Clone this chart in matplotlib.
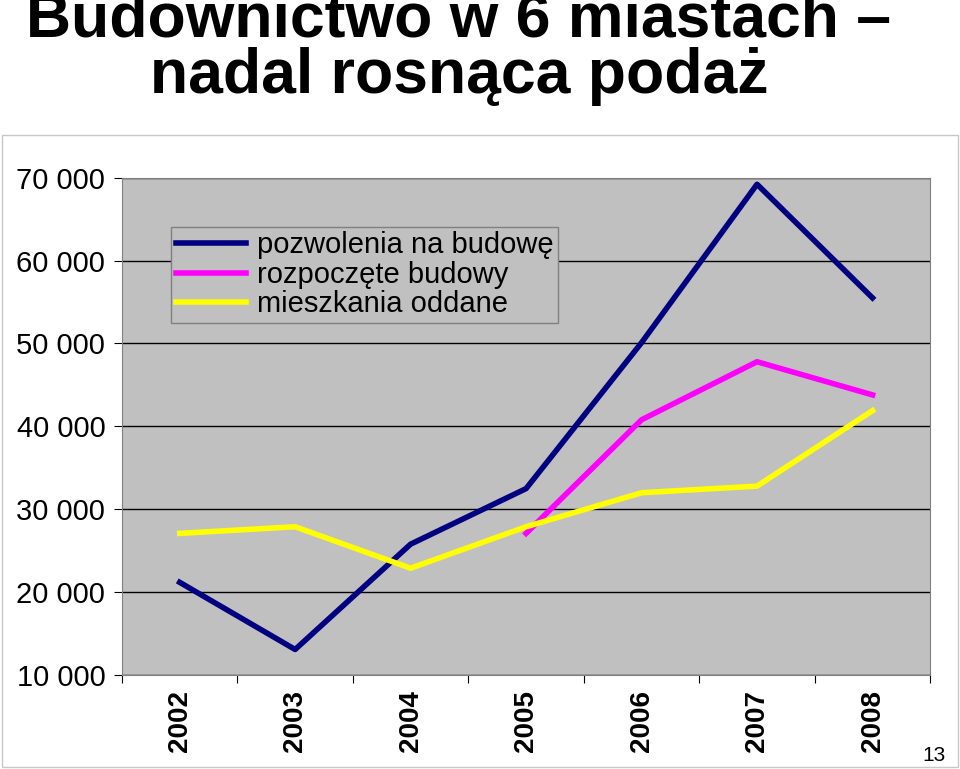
import numpy as np
import matplotlib.pyplot as plt

plt.rcParams['font.family'] = ['Liberation Sans', 'DejaVu Sans']

lata = ['2002', '2003', '2004', '2005', '2006', '2007', '2008']
pozwolenia = [21200, 13100, 25800, 32500, 50100, 69200, 55500]
rozpoczete = [np.nan, np.nan, np.nan, 27100, 40800, 47800, 43800]
oddane = [27100, 27900, 22900, 27900, 32000, 32800, 41900]

fig = plt.figure(figsize=(9.6, 7.69), dpi=100)
fig.text(0.478, 1.012, 'Budownictwo w 6 miastach –\nnadal rosnąca podaż',
         ha='center', va='top', fontsize=45, fontweight='bold', linespacing=0.95)

# ramka wykresu
fig.patches.append(plt.Rectangle((0.002, 0.002), 0.996, 0.822, transform=fig.transFigure,
                                 fill=False, edgecolor='#c8c8c8', lw=1))

ax = fig.add_axes([0.127, 0.122, 0.842, 0.647])
ax.set_facecolor('#c0c0c0')
x = np.arange(len(lata))
ax.plot(x, pozwolenia, color='#000080', lw=4, label='pozwolenia na budowę')
ax.plot(x, rozpoczete, color='#ff00ff', lw=4, label='rozpoczęte budowy')
ax.plot(x, oddane, color='#ffff00', lw=4, label='mieszkania oddane')

ax.set_xlim(-0.5, 6.5)
ax.set_ylim(10000, 70000)
ax.set_yticks(np.arange(10000, 70001, 10000))
ax.set_yticklabels([f'{v // 1000} 000' for v in range(10000, 70001, 10000)], fontsize=21)
ax.yaxis.grid(True, color='black', lw=1)
ax.set_axisbelow(True)
ax.set_xticks(np.arange(-0.5, 7, 1))
ax.set_xticklabels([])
ax.tick_params(axis='x', length=6)
ax.tick_params(axis='y', length=6, pad=6)
for xi, lab in zip(x, lata):
    ax.text(xi, -0.03, lab, transform=ax.get_xaxis_transform(), rotation=90,
            ha='center', va='top', fontsize=20, fontweight='bold')
for s in ax.spines.values():
    s.set_color('#808080')

leg = ax.legend(loc='upper left', bbox_to_anchor=(0.043, 0.93), fontsize=21,
                facecolor='#c0c0c0', edgecolor='#808080', framealpha=1, fancybox=False,
                handlelength=2.4, borderpad=0.15, labelspacing=0.05, handletextpad=0.4)

fig.text(0.985, 0.005, '13', ha='right', va='bottom', fontsize=15)

plt.savefig('out.png', dpi=100)
